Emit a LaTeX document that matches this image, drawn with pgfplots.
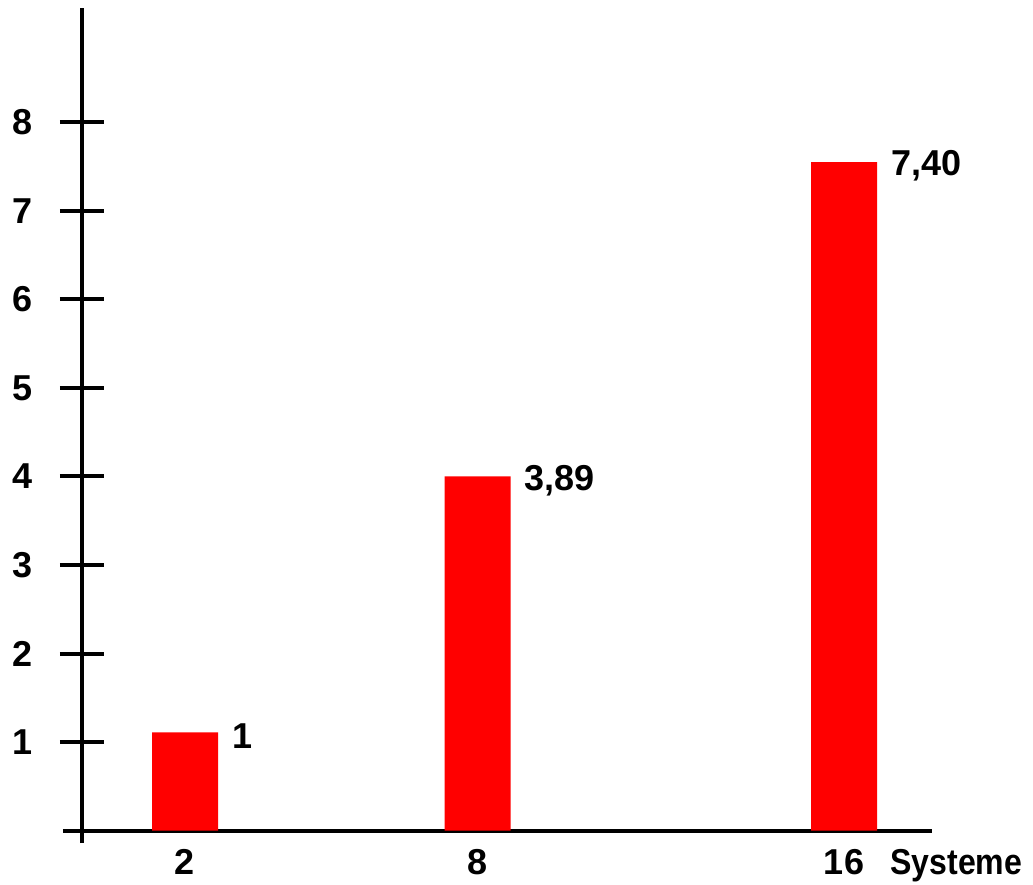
\documentclass[border=0pt]{standalone}
\usepackage{fontspec}
\setmainfont{Liberation Sans}
\usepackage{graphicx}
\usepackage{pgfplots}
\pgfplotsset{compat=1.18}
\begin{document}
\begin{tikzpicture}
\begin{axis}[
    scale only axis,
    width=434.5pt, height=417.5pt,
    xmin=-19, xmax=850,
    ymin=-0.14, ymax=9.29,
    clip=false,
    axis lines=middle,
    axis line style={-, line width=2pt, black},
    ybar, bar width=33pt, bar shift=0pt,
    ytick={1,...,8},
    xtick={103,395.5,762},
    xticklabels={2,8,16},
    tick align=center,
    major tick length=22pt,
    ytick style={line width=2pt, black},
    xtick style={draw=none},
    /pgf/number format/assume math mode=true,
    every tick label/.append style={font=\bfseries\fontsize{18}{18}\selectfont, inner sep=0pt},
    yticklabel style={anchor=east, xshift=-13.5pt},
    xticklabel style={anchor=north, yshift=2pt},
    point meta=explicit symbolic,
    nodes near coords,
    every node near coord/.append style={anchor=west, inner sep=0pt, xshift=23.5pt, yshift=-2pt, font=\bfseries\fontsize{18}{18}\selectfont},
]
\addplot[fill=red, draw=none] coordinates {(103,1.11) [1] (395.5,4.00) [{3,89}] (762,7.55) [{7,40}]};
\node[anchor=base west, inner sep=0pt, font=\bfseries\fontsize{18}{18}\selectfont] at (axis cs:808,-0.5) {\scalebox{0.89}[1]{Systeme}};
\end{axis}
\pgfresetboundingbox
\path[use as bounding box] (-31.5pt,-20.5pt) rectangle (485pt,421.5pt);
\end{tikzpicture}
\end{document}
